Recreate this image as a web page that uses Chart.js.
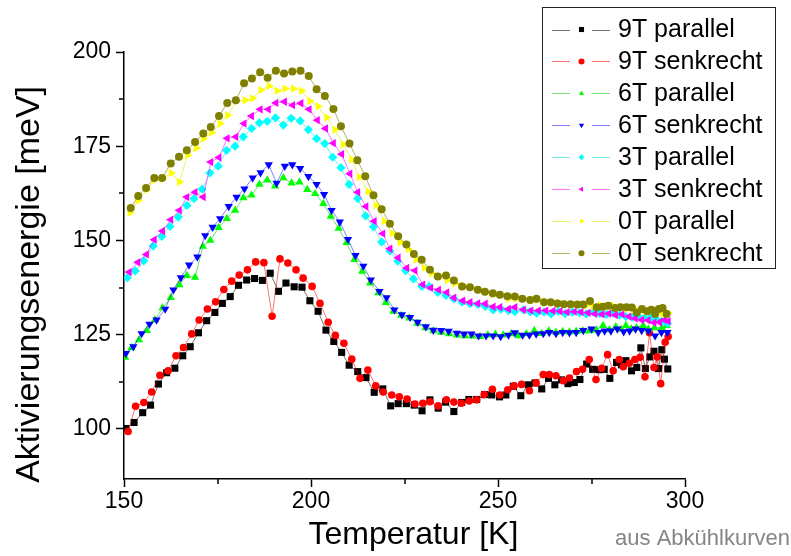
<!DOCTYPE html>
<html><head><meta charset="utf-8">
<script src="https://cdn.jsdelivr.net/npm/chart.js@4/dist/chart.umd.min.js"></script>
<style>html,body{margin:0;padding:0;background:#fff;}canvas{display:block;}</style>
</head><body>
<canvas id="c" width="791" height="556"></canvas>
<script>
// ---------- data ----------
const seriesNames = ['9T parallel','9T senkrecht','6T parallel','6T senkrecht','3T parallel','3T senkrecht','0T parallel','0T senkrecht'];

const t9par = [150.5,152.7,155.0,157.1,159.2,161.4,163.6,165.7,167.7,169.9,172.1,174.3,176.3,178.4,180.6,182.8,184.9,187.0,189.1,191.3,193.3,195.5,197.6,199.7,201.9,204.0,206.1,208.2,210.2,212.5,214.7,216.9,219.2,221.3,223.3,225.5,227.6,229.7,231.8,234.0,236.0,238.2,240.3,242.2,244.3,246.4,248.3,250.4,252.1,254.1,256.1,258.1,259.9,261.7,263.5,265.2,267.0,268.7,270.4,271.9,273.7,275.3,277.1,278.4,279.9,281.7,283.0,284.2,285.7,287.1,288.2,289.4,290.6,291.7,292.9,293.8,294.5,295.4];
const e9par = [100.1,101.7,104.3,106.3,111.9,114.9,116.1,119.4,121.8,125.5,128.7,130.9,133.3,135.1,138.1,139.5,139.9,139.4,141.3,136.5,138.7,137.7,137.6,134.0,131.2,126.2,123.2,120.3,116.9,115.2,113.6,109.7,110.6,106.1,106.7,106.7,106.3,104.8,107.7,105.5,107.1,104.6,107.0,107.8,107.8,109.1,109.0,108.5,109.0,111.3,108.8,111.7,112.2,110.6,113.4,111.7,113.0,112.0,112.3,113.1,117.2,115.8,115.7,115.8,113.4,117.6,117.0,118.1,115.4,116.3,121.5,116.0,119.1,120.6,116.0,121.0,118.5,115.9];

const t9senk = [151.1,153.1,155.3,157.4,159.6,161.8,163.9,165.9,168.1,170.1,172.3,174.5,176.7,178.8,180.8,183.0,185.2,187.4,189.6,191.7,193.8,196.0,197.9,200.3,202.4,204.6,206.5,208.8,210.9,213.1,215.2,217.3,219.3,221.6,223.6,225.7,227.8,229.9,231.8,234.0,236.2,238.2,240.2,242.3,244.3,246.3,248.5,250.5,252.6,254.3,256.3,258.4,260.2,262.1,263.7,265.5,267.5,269.1,271.0,272.6,274.4,276.2,277.7,279.3,280.8,282.4,283.5,285.1,286.6,288.0,289.3,290.5,291.7,292.6,293.5,294.7,295.5];
const e9senk = [99.3,106.0,107.0,109.8,114.2,115.4,119.4,121.6,125.2,128.9,131.8,133.7,137.0,139.2,140.8,142.2,144.3,144.1,129.9,145.1,144.0,142.2,140.0,137.8,133.3,128.3,124.8,122.7,118.5,113.4,115.6,111.4,109.8,109.0,108.5,107.9,106.6,106.8,107.2,106.1,107.7,107.1,106.8,107.4,107.7,109.1,110.5,109.0,110.4,111.4,111.8,110.1,112.2,114.4,114.4,114.1,112.8,113.5,115.2,115.8,118.4,113.1,116.1,119.7,115.4,118.4,116.5,117.4,118.4,119.0,113.8,125.5,116.3,119.1,112.0,123.0,124.5];

const t6par = [150.3,152.0,154.0,156.1,158.3,160.3,162.5,164.8,166.8,169.0,171.1,173.1,175.3,177.5,179.7,181.9,184.1,186.2,188.3,190.4,192.6,194.8,196.9,199.0,201.1,203.3,205.3,207.4,209.5,211.6,213.7,215.8,218.0,220.0,222.0,224.1,226.3,228.4,230.6,232.7,234.8,236.9,239.0,241.1,243.1,245.2,247.3,249.3,251.4,253.5,255.5,257.6,259.7,261.7,263.6,265.5,267.3,269.1,270.9,272.7,274.5,276.3,278.1,279.8,281.5,283.0,284.2,285.6,287.0,288.8,290.2,291.8,293.8,295.1];
const e6par = [119.0,121.5,123.6,126.1,128.9,132.1,134.8,138.2,140.7,140.2,148.4,150.0,153.4,155.8,158.0,161.3,162.0,164.9,166.0,164.4,166.6,165.2,165.5,163.5,162.4,159.8,156.4,153.2,149.4,144.9,141.8,138.7,136.1,133.5,131.2,130.1,129.4,128.0,126.8,126.0,125.6,125.2,124.9,124.7,124.6,124.5,124.9,125.1,124.9,125.2,124.7,125.2,126.1,125.3,126.0,125.6,125.8,125.7,125.9,126.0,126.0,126.2,127.4,126.3,127.1,126.4,127.4,126.5,126.8,127.4,126.5,126.8,126.9,127.4];

const t6senk = [150.5,152.5,154.7,156.8,158.7,161.0,163.2,165.2,167.4,169.6,171.7,173.7,175.7,178.0,180.1,182.2,184.4,186.5,188.7,190.8,193.0,195.0,197.1,199.3,201.5,203.5,205.5,207.7,209.9,211.9,214.0,216.0,218.3,220.2,222.3,224.3,226.5,228.5,230.7,232.7,234.8,236.8,239.0,240.9,242.9,244.8,246.8,248.7,250.7,252.8,254.5,256.6,258.4,260.2,262.1,263.7,265.5,267.3,269.1,270.9,272.8,275.0,276.8,278.5,280.2,281.9,283.6,285.2,286.8,288.4,290.2,292.0,293.7,295.3];
const e6senk = [120.0,121.8,125.3,127.8,128.9,131.8,136.9,140.1,143.5,145.6,151.3,153.5,155.8,159.0,161.5,163.7,166.6,168.0,170.1,165.2,169.7,170.1,169.1,167.0,164.9,162.2,158.0,154.9,150.3,146.0,143.2,139.5,136.5,134.8,131.6,130.3,129.6,128.3,127.1,126.2,126.1,125.9,125.4,125.2,125.2,124.7,124.7,124.7,124.5,124.9,125.5,124.9,124.9,125.2,125.3,125.6,125.3,125.6,125.5,125.6,126.1,126.5,125.6,126.0,126.0,126.5,125.8,126.0,126.5,126.1,126.0,124.7,125.6,125.6];

const t3par = [150.9,153.0,155.3,157.8,160.1,162.3,164.5,166.8,168.7,170.9,173.0,175.2,177.4,179.7,181.9,184.1,186.2,188.3,190.5,192.6,194.7,197.1,199.3,201.5,203.7,205.8,208.0,210.2,212.5,214.6,216.7,218.9,221.1,223.2,225.3,227.4,229.6,231.6,233.9,236.1,238.2,240.4,242.5,244.6,246.6,248.7,250.8,252.8,254.5,256.8,258.6,260.3,262.3,264.2,266.1,268.0,269.9,271.8,273.6,275.4,277.2,279.0,280.8,282.5,284.2,285.9,287.5,289.1,290.7,292.3,293.8,295.3];
const e3par = [140.1,141.9,144.6,148.5,151.1,153.7,156.2,159.3,161.1,163.6,167.9,169.7,173.9,175.0,177.5,179.7,181.2,181.6,182.5,180.6,182.4,181.7,179.4,177.0,175.7,172.1,169.3,164.9,161.1,156.5,153.6,149.6,147.2,144.5,142.0,139.8,137.8,137.8,136.2,135.4,134.5,133.6,133.2,133.0,132.5,131.6,131.8,131.4,131.1,131.6,131.1,130.7,131.0,130.5,131.2,130.6,131.0,130.8,130.5,131.0,130.6,130.4,130.7,130.2,129.8,129.6,129.9,129.4,129.5,129.1,128.5,128.0];

const t3senk = [151.4,153.7,156.0,158.1,160.3,162.5,164.8,166.8,169.0,171.2,173.2,175.4,177.6,179.9,182.1,184.1,186.4,188.6,190.6,192.9,195.1,197.3,199.5,201.7,203.9,206.0,208.2,210.4,212.5,214.7,216.9,219.2,221.1,223.3,225.6,227.8,229.9,232.0,234.1,236.3,238.2,240.6,242.5,244.6,246.6,248.7,250.5,252.8,254.5,256.8,258.8,260.8,262.8,264.7,266.6,268.5,270.4,272.2,274.1,275.9,277.8,279.6,281.4,283.2,285.0,286.7,288.4,290.1,291.7,293.2,294.5,295.5];
const e3senk = [141.6,144.2,146.3,150.2,152.5,155.5,158.0,161.5,162.8,161.5,170.8,172.0,177.1,177.5,181.0,183.0,184.8,184.8,186.5,186.8,185.9,186.4,184.8,181.9,179.7,175.8,172.9,167.7,162.8,159.0,155.1,151.8,147.8,145.4,142.7,142.0,138.3,137.4,136.9,136.2,134.8,134.0,133.6,133.3,133.2,132.4,132.3,131.8,132.3,131.6,131.4,131.4,131.4,131.3,131.2,131.0,131.1,131.0,130.8,130.5,130.4,130.6,130.2,130.4,129.8,129.3,128.9,128.8,128.2,128.3,128.9,128.6];

const t0par = [151.6,153.8,156.1,158.1,160.3,162.6,164.8,167.0,169.3,171.2,173.4,175.7,177.7,180.1,182.4,184.4,186.6,188.8,191.0,193.1,195.3,197.5,199.7,201.9,204.2,206.4,208.6,210.9,212.9,215.3,217.4,219.6,221.7,223.8,226.0,228.1,230.3,232.3,234.3,236.4,238.5,240.7,242.7,244.9,246.8,248.7,250.8,252.8,254.8,256.8,258.6,260.5,262.5,264.4,266.3,268.2,270.1,271.9,273.7,275.5,277.3,279.1,280.9,282.7,284.4,286.1,287.8,289.4,291.0,292.6,294.1,295.5];
const e0par = [157.3,160.6,163.5,166.0,166.4,167.9,165.5,172.6,174.5,177.0,178.6,181.0,183.2,187.0,187.2,187.7,189.9,191.0,189.7,190.3,190.3,189.7,187.0,185.6,182.6,179.4,175.5,171.5,166.8,163.0,159.3,155.1,151.9,149.5,147.7,144.9,142.7,141.3,140.4,139.5,138.6,138.0,137.6,136.9,136.3,135.6,135.6,134.5,134.5,134.5,134.2,134.2,133.8,133.5,133.4,133.2,133.0,132.9,132.8,132.6,132.9,132.5,132.7,132.4,132.0,131.8,131.5,131.2,131.4,130.6,130.5,130.8];

const t0senk = [151.8,153.8,155.9,158.1,160.2,162.5,164.7,166.8,169.0,171.2,173.2,175.4,177.6,179.9,182.1,184.2,186.4,188.4,190.6,192.8,195.0,197.2,199.4,201.5,203.7,206.0,208.0,210.3,212.4,214.5,216.7,218.9,221.1,223.3,225.5,227.5,229.6,231.8,233.9,236.1,238.2,240.4,242.5,244.6,246.5,248.6,250.5,252.5,254.5,256.5,258.6,260.3,262.3,264.1,265.9,267.6,269.4,271.2,272.8,274.6,276.4,278.0,279.5,281.3,282.8,284.4,285.8,287.1,288.5,289.9,291.0,292.0,293.0,294.0,295.1];
const e0senk = [158.6,161.8,163.9,166.6,166.6,170.4,172.2,173.9,176.1,178.4,180.1,183.0,186.5,187.2,191.7,193.0,194.6,193.2,195.0,194.3,194.8,195.0,193.6,190.1,188.3,184.9,180.3,175.7,171.3,167.0,162.0,158.3,154.4,151.1,148.9,146.4,144.9,142.2,140.4,140.7,139.4,137.8,137.6,136.9,136.4,136.0,135.6,135.2,135.1,134.5,134.2,134.5,133.6,133.6,133.3,133.1,133.1,133.0,133.0,133.9,132.3,132.4,132.7,132.1,132.3,132.3,132.2,130.9,131.8,131.2,131.6,130.5,131.8,132.1,130.5];

const xMajorTicks = [150, 200, 250, 300];
const xMinorTicks = [175, 225, 275];
const yMajorTicks = [100, 125, 150, 175, 200];
const yMinorTicks = [112.5, 137.5, 162.5, 187.5];

// ---------- styling ----------
const FONT = "'Liberation Sans', Arial, sans-serif";
const markerColors = ['#000000','#ff0000','#00ff00','#0000ff','#00ffff','#ff00ff','#ffff00','#808000'];
const lineColors = ['rgba(0,0,0,0.55)','rgba(255,0,0,0.55)','rgba(0,200,0,0.55)','rgba(0,0,255,0.5)','rgba(0,220,220,0.55)','rgba(255,0,255,0.55)','rgba(230,230,0,0.6)','rgba(128,128,0,0.6)'];
const pStyles = ['rect','circle','triangle','triangle','rectRot','triangle','triangle','circle'];
const pRot = [0,0,0,180,0,270,90,0];
const pRad = [5,3.8,4.8,4.8,4.6,4.8,4.8,4];
const tArr = [t9par,t9senk,t6par,t6senk,t3par,t3senk,t0par,t0senk];
const eArr = [e9par,e9senk,e6par,e6senk,e3par,e3senk,e0par,e0senk];

const datasets = seriesNames.map((name, i) => ({
  label: name,
  data: tArr[i].map((t, k) => ({x: t, y: eArr[i][k]})),
  borderColor: lineColors[i],
  borderWidth: 1,
  backgroundColor: markerColors[i],
  pointBackgroundColor: markerColors[i],
  pointBorderWidth: 0,
  pointStyle: pStyles[i],
  rotation: pRot[i],
  pointRadius: pRad[i],
  tension: 0,
  fill: false,
  order: 8 - i
}));

function drawMarker(ctx, style, rot, r, x, y) {
  ctx.beginPath();
  if (style === 'circle') {
    ctx.arc(x, y, r, 0, Math.PI * 2);
  } else if (style === 'rect') {
    const s = r * Math.SQRT1_2;
    ctx.rect(x - s, y - s, 2 * s, 2 * s);
  } else if (style === 'rectRot') {
    ctx.moveTo(x, y - r); ctx.lineTo(x + r, y); ctx.lineTo(x, y + r); ctx.lineTo(x - r, y);
  } else {
    let a = rot * Math.PI / 180;
    for (let k = 0; k < 3; k++) {
      const px = x + Math.sin(a) * r, py = y - Math.cos(a) * r;
      if (k === 0) ctx.moveTo(px, py); else ctx.lineTo(px, py);
      a += 2 * Math.PI / 3;
    }
  }
  ctx.closePath();
  ctx.fill();
}

const extrasPlugin = {
  id: 'extras',
  afterDraw(chart) {
    const ctx = chart.ctx;
    const xs = chart.scales.x, ys = chart.scales.y;
    ctx.save();
    // minor ticks
    ctx.strokeStyle = '#000';
    ctx.lineWidth = 1.5;
    xMinorTicks.forEach(v => {
      const px = Math.round(xs.getPixelForValue(v));
      ctx.beginPath(); ctx.moveTo(px, ys.bottom); ctx.lineTo(px, ys.bottom + 5); ctx.stroke();
    });
    yMinorTicks.forEach(v => {
      const py = Math.round(ys.getPixelForValue(v));
      ctx.beginPath(); ctx.moveTo(xs.left, py); ctx.lineTo(xs.left - 5, py); ctx.stroke();
    });
    // legend
    const bx = 542.5, by = 7.5, bw = 233, bh = 261;
    ctx.fillStyle = '#fff';
    ctx.fillRect(bx, by, bw, bh);
    ctx.strokeStyle = '#222';
    ctx.lineWidth = 1;
    ctx.strokeRect(bx, by, bw, bh);
    ctx.font = '25px ' + FONT;
    ctx.textBaseline = 'middle';
    ctx.textAlign = 'left';
    seriesNames.forEach((name, i) => {
      const y = 29.5 + i * 31.95;
      ctx.strokeStyle = lineColors[i];
      ctx.lineWidth = 1;
      ctx.beginPath();
      ctx.moveTo(552, Math.round(y) + 0.5); ctx.lineTo(570, Math.round(y) + 0.5);
      ctx.moveTo(592, Math.round(y) + 0.5); ctx.lineTo(610, Math.round(y) + 0.5);
      ctx.stroke();
      ctx.fillStyle = markerColors[i];
      drawMarker(ctx, pStyles[i], pRot[i], pStyles[i] === 'rect' ? 3.6 : 3, 581.5, y);
      ctx.fillStyle = '#000';
      ctx.fillText(name, 618, y + 1);
    });
    // note
    ctx.font = '22px ' + FONT;
    ctx.fillStyle = '#858585';
    ctx.textAlign = 'right';
    ctx.textBaseline = 'alphabetic';
    ctx.fillText('aus Abkühlkurven', 790, 545);
    ctx.restore();
  }
};

new Chart(document.getElementById('c'), {
  type: 'line',
  data: { datasets },
  options: {
    responsive: false,
    animation: false,
    devicePixelRatio: 1,
    layout: { padding: { top: 52, right: 106, left: 0, bottom: 0 } },
    plugins: { legend: { display: false }, tooltip: { enabled: false } },
    scales: {
      x: {
        type: 'linear', min: 150, max: 300,
        afterBuildTicks: s => { s.ticks = xMajorTicks.map(v => ({value: v})); },
        afterFit: s => { s.height = 77; },
        grid: { drawOnChartArea: false, drawTicks: true, tickLength: 8, tickColor: '#000', tickWidth: 1.5 },
        border: { display: true, color: '#000', width: 1.5 },
        ticks: { color: '#000', font: { family: FONT, size: 23 }, padding: 1, maxRotation: 0 },
        title: { display: true, text: '  Temperatur [K]', color: '#000', font: { family: FONT, size: 32, lineHeight: 1 }, padding: { top: 0, bottom: 5 } }
      },
      y: {
        type: 'linear', min: 86.7, max: 200,
        afterBuildTicks: s => { s.ticks = yMajorTicks.map(v => ({value: v})); },
        afterFit: s => { s.width = 124; },
        grid: { drawOnChartArea: false, drawTicks: true, tickLength: 8, tickColor: '#000', tickWidth: 1.5 },
        border: { display: true, color: '#000', width: 1.5 },
        ticks: { color: '#000', font: { family: FONT, size: 23 }, padding: 5 },
        title: { display: true, text: 'Aktivierungsenergie [meV]    ', color: '#000', font: { family: FONT, size: 34, lineHeight: 1 }, padding: { top: 13, bottom: 0 } }
      }
    }
  },
  plugins: [extrasPlugin]
});
</script>
</body></html>
